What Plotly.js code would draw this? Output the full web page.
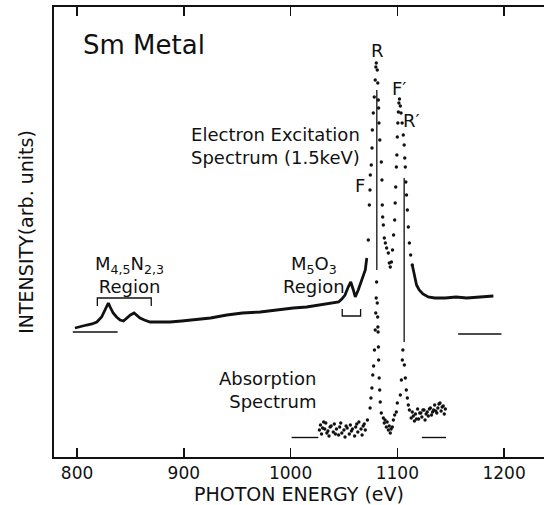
<!DOCTYPE html>
<html>
<head>
<meta charset="utf-8">
<script src="https://cdn.plot.ly/plotly-3.0.1.min.js"></script>
<style>html,body{margin:0;padding:0;background:#fff}#chart{width:544px;height:505px}</style>
</head>
<body>
<div id="chart"></div>
<script>
// Electron excitation spectrum (1.5 keV) — dense part, drawn as a thick trace
const excLowEnergy = [798, 804, 809, 814, 818.5, 823, 826, 828, 829.3, 831, 833.8, 837, 840.3, 843.5, 846.6, 850, 853.4, 856, 859, 863, 868.4, 878, 887, 898, 908.8, 925, 940.3, 955, 971.6, 985, 1002.5, 1015, 1028, 1039, 1045, 1048, 1051, 1054, 1056.4, 1058.8, 1060.6, 1063.4, 1066.2, 1068.1, 1070, 1071.4];
const excLowIntensity = [129, 131, 132, 133, 135, 140, 147, 152, 154, 150, 144, 140, 137, 136, 139, 142, 144, 142, 139, 137, 135, 135, 135, 136, 137, 139, 142, 144, 145, 147, 149, 150, 152, 154, 155, 158, 162, 170, 175, 167, 160, 167, 175, 180, 187, 199];
// Electron excitation spectrum — peak region (individual points)
const excPeakEnergy = [1072.8, 1073.8, 1074.4, 1074.7, 1075.6, 1076.3, 1076.6, 1077.5, 1078.4, 1079.3, 1079.9, 1080.3, 1081.2, 1081.7, 1082.2, 1082.5, 1082.8, 1083.6, 1085, 1085.6, 1085.9, 1086.3, 1086.9, 1087.8, 1088.8, 1090, 1091.6, 1092.5, 1093.4, 1094.5, 1095.5, 1096.5, 1097.5, 1098, 1098.5, 1099.1, 1099.6, 1100, 1100.5, 1101, 1101.5, 1102, 1102.8, 1103.5, 1104.5, 1105.6, 1106.4, 1107, 1107.5, 1108, 1108.6, 1109.4, 1110.3, 1111.3, 1112.5, 1114];
const excPeakIntensity = [217, 252, 267, 282, 292, 309, 327, 344, 360, 377, 390, 394, 387, 374, 357, 349, 334, 317, 295, 277, 252, 240, 232, 219, 214, 209, 204, 194, 190, 195, 207, 222, 237, 254, 270, 290, 302, 320, 334, 345, 354, 358, 351, 344, 334, 322, 312, 299, 290, 275, 262, 247, 230, 214, 202, 192];
// Electron excitation spectrum — high-energy tail
const excHighEnergy = [1114, 1116, 1118, 1120.5, 1124, 1129, 1135, 1145, 1155, 1165, 1175, 1185, 1190];
const excHighIntensity = [192, 180, 172, 167, 163, 160, 159, 159, 160, 159, 160, 161, 161];

// Absorption spectrum
const absEnergy = [1027, 1028, 1029, 1030, 1031, 1032, 1033, 1034, 1035, 1036, 1037, 1038, 1040, 1041, 1042, 1043, 1045, 1046, 1047, 1048, 1050, 1051, 1052, 1053, 1055, 1056, 1057, 1058, 1060, 1061, 1062, 1063, 1064, 1066, 1067, 1068, 1069, 1070, 1072,
  1074.5, 1075.3, 1076.2, 1077, 1077.8, 1078.6, 1079.3, 1079.8, 1080.2, 1080.6,
  1081.2, 1081.6, 1081.8, 1082, 1082.3, 1082.5, 1083, 1083.5, 1084, 1085,
  1086.9, 1087.8, 1088.5, 1089.7, 1090.5, 1091.6, 1092.4, 1093.4, 1094.2, 1095.3, 1096.3, 1097.5, 1099.1, 1100,
  1102.8, 1103.8, 1104.7, 1105.2, 1106.6, 1107.5, 1108.4, 1109.4, 1110.3, 1111.3,
  1113, 1114, 1115, 1116, 1117, 1118, 1119, 1120, 1121, 1122, 1123, 1124, 1125, 1126, 1127, 1128, 1129, 1130, 1131, 1132, 1133, 1134, 1135, 1136, 1137, 1138, 1139, 1140, 1141, 1142, 1143, 1144, 1145];
const absIntensity = [27, 32, 23, 29, 35, 28, 34, 24, 26, 21, 30, 31, 25, 33, 23, 28, 22, 30, 34, 24, 27, 20, 31, 29, 23, 32, 26, 28, 21, 30, 33, 25, 35, 28, 22, 31, 33, 27, 37,
  49, 59, 69, 82, 91, 107, 127, 144, 159, 175,
  154, 140, 130, 125, 110, 97, 79, 67, 55, 44,
  39, 34, 37, 30, 35, 27, 31, 24, 28, 30, 37, 42, 45, 54,
  62, 77, 97, 107, 92, 79, 67, 59, 52, 47,
  39, 45, 41, 36, 43, 38, 48, 38, 44, 44, 40, 47, 47, 37, 43, 45, 41, 48, 49, 42, 45, 47, 52, 46, 44, 49, 53, 54, 46, 50, 51, 43, 48];

// Reference (zero) levels
const excZeroLeft = [796, 838], excZeroRight = [1157, 1197.5], excZeroLevel = [125, 123];
const absZeroLeft = [1001, 1026], absZeroRight = [1123, 1145.6], absZeroLevel = 19.5;
const tickValues = [800, 900, 1000, 1100, 1200];

const font = "DejaVu Sans, Liberation Sans, sans-serif";

const traces = [
  {x: excLowEnergy, y: excLowIntensity, mode: "lines", line: {color: "#111", width: 2.8}, name: "Electron excitation"},
  {x: excPeakEnergy, y: excPeakIntensity, mode: "markers", marker: {color: "#111", size: 3.4}, name: "Electron excitation peaks"},
  {x: excHighEnergy, y: excHighIntensity, mode: "lines", line: {color: "#111", width: 2.8}, name: "Electron excitation tail"},
  {x: absEnergy, y: absIntensity, mode: "markers", marker: {color: "#111", size: 3.4}, name: "Absorption"},
  {x: excZeroLeft, y: [excZeroLevel[0], excZeroLevel[0]], mode: "lines", line: {color: "#111", width: 1.4}},
  {x: excZeroRight, y: [excZeroLevel[1], excZeroLevel[1]], mode: "lines", line: {color: "#111", width: 1.4}},
  {x: absZeroLeft, y: [absZeroLevel, absZeroLevel], mode: "lines", line: {color: "#111", width: 1.4}},
  {x: absZeroRight, y: [absZeroLevel, absZeroLevel], mode: "lines", line: {color: "#111", width: 1.4}}
];

const lineStyle = {color: "#111", width: 1.3};
const shapes = [
  {type: "line", xref: "x", yref: "y", x0: 1080.8, x1: 1080.8, y0: 187, y1: 367, line: lineStyle},
  {type: "line", xref: "x", yref: "y", x0: 1106.4, x1: 1106.4, y0: 115, y1: 279, line: lineStyle},
  {type: "path", xref: "x", yref: "y", path: "M819,151 L819,159 L869.5,159 L869.5,151", line: lineStyle},
  {type: "path", xref: "x", yref: "y", path: "M1048.4,148 L1048.4,141 L1065.6,141 L1065.6,148", line: lineStyle}
];

const ann = (text, x, y, size, extra) => Object.assign({text, x, y, xref: "x", yref: "y", showarrow: false, font: {family: font, size, color: "#111"}}, extra || {});
const annotations = [
  ann("Sm Metal", 862.8, 412, 26),
  ann("R", 1081.3, 407, 18),
  ann("F′", 1102, 369, 18),
  ann("R′", 1113.5, 337, 18),
  ann("F", 1065.3, 272, 18),
  ann("Electron Excitation<br>Spectrum (1.5keV)", 1067.2, 311, 18, {xanchor: "right", align: "right"}),
  ann("M<sub>4,5</sub>N<sub>2,3</sub><br>Region", 849, 182, 18),
  ann("M<sub>5</sub>O<sub>3</sub><br>Region", 1022, 182, 18),
  ann("Absorption<br>Spectrum", 1025.9, 67, 18, {xanchor: "right", align: "right"})
];

const layout = {
  width: 544, height: 505,
  margin: {l: 54, r: 0, t: 7, b: 48},
  paper_bgcolor: "#fff", plot_bgcolor: "#fff",
  showlegend: false,
  font: {family: font, color: "#111"},
  xaxis: {
    range: [778.4, 1237.4], tickvals: tickValues, ticktext: tickValues.map(String),
    ticks: "inside", ticklen: 9, tickwidth: 1.5, tickcolor: "#111",
    showline: true, linewidth: 1.6, linecolor: "#111", mirror: "ticks",
    showgrid: false, zeroline: false,
    tickfont: {family: font, size: 17, color: "#111"},
    title: {text: "PHOTON ENERGY (eV)", font: {family: font, size: 19, color: "#111"}, standoff: 7}
  },
  yaxis: {
    range: [0, 450], showticklabels: false, ticks: "",
    showline: true, linewidth: 1.6, linecolor: "#111", mirror: false,
    showgrid: false, zeroline: false,
    title: {text: "INTENSITY(arb. units)", font: {family: font, size: 19, color: "#111"}, standoff: 14}
  },
  shapes, annotations
};

Plotly.newPlot("chart", traces, layout, {staticPlot: true, displayModeBar: false});
</script>
</body>
</html>
